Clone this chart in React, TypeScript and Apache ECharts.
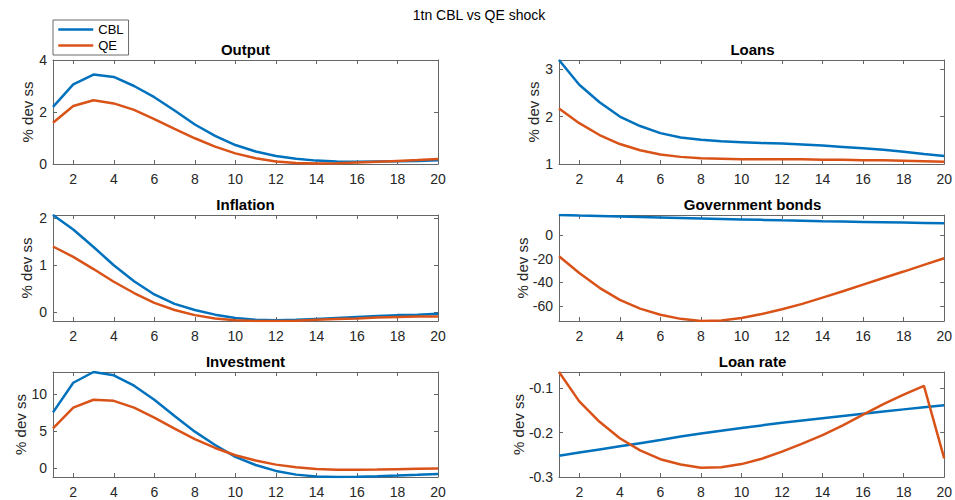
import React, { useEffect, useRef } from "react";
import * as echarts from "echarts";

// Impulse responses, periods 1..20
const PERIODS = [1, 2, 3, 4, 5, 6, 7, 8, 9, 10, 11, 12, 13, 14, 15, 16, 17, 18, 19, 20];

const outputCBL = [2.2, 3.06, 3.44, 3.35, 3.0, 2.57, 2.06, 1.52, 1.08, 0.73, 0.48, 0.31, 0.2, 0.13, 0.1, 0.09, 0.1, 0.11, 0.12, 0.14];
const outputQE = [1.59, 2.23, 2.45, 2.33, 2.08, 1.73, 1.35, 0.99, 0.67, 0.41, 0.22, 0.1, 0.04, 0.02, 0.03, 0.06, 0.09, 0.12, 0.15, 0.19];

const loansCBL = [3.19, 2.67, 2.3, 2.0, 1.8, 1.65, 1.56, 1.51, 1.48, 1.46, 1.44, 1.43, 1.41, 1.39, 1.36, 1.33, 1.3, 1.26, 1.21, 1.17];
const loansQE = [2.17, 1.86, 1.61, 1.42, 1.29, 1.2, 1.15, 1.12, 1.11, 1.1, 1.1, 1.1, 1.1, 1.09, 1.09, 1.08, 1.08, 1.07, 1.06, 1.05];

const inflationCBL = [2.07, 1.76, 1.39, 1.0, 0.66, 0.38, 0.18, 0.05, -0.05, -0.12, -0.16, -0.17, -0.16, -0.14, -0.12, -0.1, -0.08, -0.06, -0.05, -0.03];
const inflationQE = [1.4, 1.18, 0.92, 0.65, 0.41, 0.2, 0.05, -0.06, -0.13, -0.17, -0.185, -0.185, -0.18, -0.16, -0.14, -0.13, -0.11, -0.1, -0.09, -0.09];

const bondsCBL = [16.8, 16.3, 15.9, 15.5, 15.1, 14.7, 14.3, 13.9, 13.5, 13.1, 12.7, 12.3, 12.0, 11.6, 11.3, 11.0, 10.7, 10.4, 10.1, 9.8];
const bondsQE = [-17.9, -32, -44.5, -54.6, -62, -67.2, -70.6, -72.4, -72, -69.8, -66.5, -62.5, -58, -52.7, -47.4, -41.8, -36.2, -30.8, -25.2, -19.6];

const investmentCBL = [7.5, 11.5, 12.95, 12.5, 11.1, 9.2, 7.0, 4.9, 3.1, 1.5, 0.4, -0.4, -0.9, -1.15, -1.22, -1.2, -1.12, -1.03, -0.92, -0.8];
const investmentQE = [5.35, 8.15, 9.2, 9.06, 8.15, 6.8, 5.3, 3.9, 2.7, 1.72, 1.0, 0.45, 0.1, -0.15, -0.25, -0.25, -0.22, -0.17, -0.12, -0.08];

const loanRateCBL = [-0.252, -0.245, -0.238, -0.231, -0.224, -0.217, -0.209, -0.202, -0.196, -0.19, -0.184, -0.178, -0.173, -0.168, -0.163, -0.158, -0.153, -0.148, -0.143, -0.139];
const loanRateQE = [-0.064, -0.13, -0.176, -0.213, -0.24, -0.26, -0.272, -0.279, -0.278, -0.271, -0.259, -0.243, -0.225, -0.206, -0.184, -0.16, -0.136, -0.115, -0.095, -0.258];

// Tick marks
const xTicks = [2, 4, 6, 8, 10, 12, 14, 16, 18, 20];
const outputTicks = [0, 2, 4];
const loansTicks = [1, 2, 3];
const inflationTicks = [0, 1, 2];
const bondsTicks = [-60, -40, -20, 0];
const investmentTicks = [0, 5, 10];
const loanRateTicks = [-0.3, -0.2, -0.1];

const SERIES_NAMES = ["CBL", "QE"];
const TITLE = "1tn CBL vs QE shock";
const Y_LABEL = "% dev ss";

const BLUE = "#0072BD";
const ORANGE = "#D95319";
const AXIS = "#666666";
const TEXT = "#262626";
const FONT = '"Liberation Sans", Arial, Helvetica, sans-serif';

const panels = [
  { title: "Output", cbl: outputCBL, qe: outputQE, ticks: outputTicks, min: 0, max: 4, left: 53, top: 60, width: 385, height: 104, labelGap: 25.5 },
  { title: "Loans", cbl: loansCBL, qe: loansQE, ticks: loansTicks, min: 1, max: 3.19, left: 559, top: 60, width: 387, height: 104, labelGap: 25.5 },
  { title: "Inflation", cbl: inflationCBL, qe: inflationQE, ticks: inflationTicks, min: -0.185, max: 2.07, left: 53, top: 215, width: 385, height: 106, labelGap: 27 },
  { title: "Government bonds", cbl: bondsCBL, qe: bondsQE, ticks: bondsTicks, min: -72.4, max: 16.8, left: 559, top: 215, width: 387, height: 106, labelGap: 36.5 },
  { title: "Investment", cbl: investmentCBL, qe: investmentQE, ticks: investmentTicks, min: -1.22, max: 12.95, left: 53, top: 372, width: 385, height: 105, labelGap: 33 },
  { title: "Loan rate", cbl: loanRateCBL, qe: loanRateQE, ticks: loanRateTicks, min: -0.3, max: -0.064, left: 559, top: 372, width: 387, height: 105, labelGap: 40.5 },
];

function buildOption() {
  const grid: any[] = [];
  const xAxis: any[] = [];
  const yAxis: any[] = [];
  const series: any[] = [];
  const graphic: any[] = [];

  const lineStyle = { color: AXIS, width: 1 };
  const tickStyle = { inside: true, length: 4, lineStyle: { color: AXIS, width: 1 } };

  panels.forEach((p, i) => {
    grid.push({ left: p.left, top: p.top, width: p.width, height: p.height, containLabel: false });

    // bottom and top x axes
    xAxis.push({
      type: "value", gridIndex: i, min: 1, max: 20, position: "bottom",
      axisLine: { show: true, onZero: false, lineStyle },
      axisTick: { ...tickStyle, customValues: xTicks },
      axisLabel: { customValues: xTicks, margin: 8, fontSize: 14, color: TEXT, fontFamily: FONT },
      splitLine: { show: false },
    });
    xAxis.push({
      type: "value", gridIndex: i, min: 1, max: 20, position: "top",
      axisLine: { show: true, onZero: false, lineStyle },
      axisTick: { ...tickStyle, customValues: xTicks },
      axisLabel: { show: false },
      splitLine: { show: false },
    });

    // left and right y axes
    yAxis.push({
      type: "value", gridIndex: i, min: p.min, max: p.max, position: "left",
      axisLine: { show: true, onZero: false, lineStyle },
      axisTick: { ...tickStyle, customValues: p.ticks },
      axisLabel: { customValues: p.ticks, margin: 6, fontSize: 14, color: TEXT, fontFamily: FONT },
      splitLine: { show: false },
    });
    yAxis.push({
      type: "value", gridIndex: i, min: p.min, max: p.max, position: "right",
      axisLine: { show: true, onZero: false, lineStyle },
      axisTick: { ...tickStyle, customValues: p.ticks },
      axisLabel: { show: false },
      splitLine: { show: false },
    });

    [p.cbl, p.qe].forEach((vals, k) => {
      series.push({
        type: "line",
        name: SERIES_NAMES[k],
        xAxisIndex: 2 * i,
        yAxisIndex: 2 * i,
        symbol: "none",
        showSymbol: false,
        clip: true,
        lineStyle: { width: 2.5, color: k === 0 ? BLUE : ORANGE },
        itemStyle: { color: k === 0 ? BLUE : ORANGE },
        z: 3 + k,
        data: PERIODS.map((x, j) => [x, vals[j]]),
      });
    });

    // panel title
    graphic.push({
      type: "text",
      x: p.left + p.width / 2,
      y: p.top - 11,
      style: {
        text: p.title, align: "center", verticalAlign: "middle",
        fontSize: 15, fontWeight: "bold", fontFamily: FONT, fill: "#000000",
      },
    });
    // y-axis label
    graphic.push({
      type: "text",
      x: p.left - p.labelGap,
      y: p.top + p.height / 2,
      rotation: Math.PI / 2,
      style: {
        text: Y_LABEL, align: "center", verticalAlign: "middle",
        fontSize: 15, fontFamily: FONT, fill: TEXT,
      },
    });
  });

  graphic.push({
    type: "text",
    x: 479,
    y: 14.5,
    style: { text: TITLE, align: "center", verticalAlign: "middle", fontSize: 14, fontFamily: FONT, fill: "#000000" },
  });

  return {
    animation: false,
    backgroundColor: "#ffffff",
    legend: {
      data: SERIES_NAMES,
      orient: "vertical",
      left: 53,
      top: 20,
      itemWidth: 35,
      itemHeight: 14,
      itemGap: 3,
      padding: [3, 5, 3, 4],
      backgroundColor: "#ffffff",
      borderColor: "#444444",
      borderWidth: 0.8,
      itemStyle: { opacity: 0 },
      lineStyle: { width: 2.5 },
      textStyle: { fontSize: 13, fontFamily: FONT, color: "#000000" },
      z: 10,
    },
    grid,
    xAxis,
    yAxis,
    series,
    graphic,
  };
}

export default function App() {
  const ref = useRef<HTMLDivElement>(null);

  useEffect(() => {
    document.body.style.margin = "0";
    if (!ref.current) return;
    const chart = echarts.init(ref.current, null, { renderer: "svg" });
    chart.setOption(buildOption() as any);
    return () => chart.dispose();
  }, []);

  return <div ref={ref} style={{ width: 955, height: 500 }} />;
}
